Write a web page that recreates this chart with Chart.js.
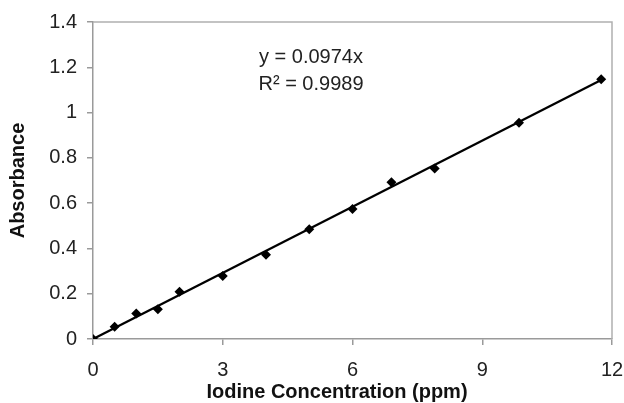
<!DOCTYPE html>
<html>
<head>
<meta charset="utf-8">
<script src="https://cdn.jsdelivr.net/npm/chart.js@4"></script>
<style>
  html, body { margin: 0; padding: 0; background: #fff; }
  #chart { display: block; }
</style>
</head>
<body>
<canvas id="chart" width="624" height="403"></canvas>
<script>
// measured points (ppm, absorbance)
const concentration = [0, 0.5, 1, 1.5, 2, 3, 4, 5, 6, 6.9, 7.9, 9.85, 11.75];
const absorbance = [0, 0.054, 0.113, 0.131, 0.209, 0.278, 0.372, 0.485, 0.574, 0.692, 0.753, 0.955, 1.147];

// trendline ends as drawn
const trendX = [0, 11.75];
const trendY = [0, 1.144];

const equationLines = ['y = 0.0974x', 'R\u00B2 = 0.9989'];
const xTitle = 'Iodine Concentration (ppm)';
const yTitle = 'Absorbance';

const FONT = '"Liberation Sans", Arial, sans-serif';
const axisGray = '#9a9a9a';

const points = concentration.map((x, i) => ({ x: x, y: absorbance[i] }));
const trend = trendX.map((x, i) => ({ x: x, y: trendY[i] }));

// frame + equation + x title
const extras = {
  id: 'extras',
  beforeDatasetsDraw(chart) {
    const a = chart.chartArea;
    const ctx = chart.ctx;
    ctx.save();
    ctx.strokeStyle = '#b0b0b0';
    ctx.lineWidth = 1.5;
    ctx.beginPath();
    ctx.moveTo(a.left, a.top);
    ctx.lineTo(a.right, a.top);
    ctx.lineTo(a.right, a.bottom);
    ctx.stroke();
    ctx.restore();
  },
  afterDraw(chart) {
    const ctx = chart.ctx;
    ctx.save();
    ctx.fillStyle = '#222';
    ctx.font = '20px ' + FONT;
    ctx.textAlign = 'center';
    ctx.textBaseline = 'middle';
    ctx.fillText(equationLines[0], 311, 57);
    ctx.fillText(equationLines[1], 311, 84);

    ctx.font = 'bold 20px ' + FONT;
    ctx.fillStyle = '#111';
    ctx.fillText(xTitle, 337, 392);
    ctx.restore();
  }
};

new Chart(document.getElementById('chart'), {
  type: 'scatter',
  data: {
    datasets: [
      {
        label: 'data',
        data: points,
        pointStyle: 'rectRot',
        pointRadius: 5,
        backgroundColor: '#000',
        borderColor: '#000',
        borderWidth: 0,
        showLine: false,
        order: 1
      },
      {
        label: 'trend',
        data: trend,
        showLine: true,
        borderColor: '#000',
        borderWidth: 2.3,
        pointRadius: 0,
        fill: false,
        order: 2
      }
    ]
  },
  options: {
    responsive: false,
    animation: false,
    layout: { padding: { top: 22, right: 0, left: 0, bottom: 0 } },
    plugins: {
      legend: { display: false },
      tooltip: { enabled: false }
    },
    scales: {
      x: {
        type: 'linear',
        min: 0,
        max: 12,
        afterFit: s => { s.height = 64; s.paddingRight = 12; },
        ticks: {
          stepSize: 3,
          color: '#222',
          padding: 13,
          font: { family: FONT, size: 20 }
        },
        grid: {
          drawOnChartArea: false,
          drawTicks: true,
          tickLength: 6,
          color: axisGray,
          lineWidth: 1.5
        },
        border: { color: axisGray, width: 1.5 }
      },
      y: {
        min: 0,
        max: 1.4,
        afterFit: s => { s.width = 93; },
        ticks: {
          stepSize: 0.2,
          color: '#222',
          padding: 10,
          font: { family: FONT, size: 20 },
          callback: v => String(Number(v.toFixed(1)))
        },
        grid: {
          drawOnChartArea: false,
          drawTicks: true,
          tickLength: 6,
          color: axisGray,
          lineWidth: 1.5
        },
        border: { color: axisGray, width: 1.5 },
        title: {
          display: true,
          text: yTitle,
          color: '#111',
          padding: { top: 6, bottom: 0 },
          font: { family: FONT, size: 20, weight: 'bold' }
        }
      }
    }
  },
  plugins: [extras]
});
</script>
</body>
</html>
